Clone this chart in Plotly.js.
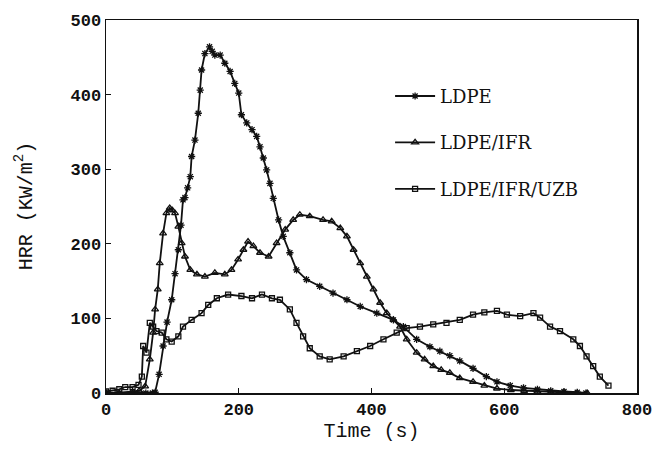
<!DOCTYPE html>
<html>
<head>
<meta charset="utf-8">
<script src="https://cdn.plot.ly/plotly-3.0.1.min.js"></script>
<style>html,body{margin:0;padding:0;background:#fff;}#chart{width:653px;height:459px;}</style>
</head>
<body>
<div id="chart"></div>
<script>
// Time (s) and HRR (kW/m^2)
const ldpeT = [0,20,40,60,70,74,80,86,92,99,104,109,113,116,119,123,127,129,134,139,142,144,149,156,160,164,172,179,187,194,200,204,212,220,227,232,237,242,247,252,260,267,277,287,302,322,342,363,383,408,433,448,468,488,503,518,533,553,573,589,609,629,650,670,690,710,723];
const ldpeY = [0,0,0,0,0,1,25,63,95,125,160,192,225,259,262,275,290,317,339,375,406,433,455,464,458,453,453,442,431,415,402,373,362,353,344,330,315,299,281,261,232,210,188,165,152,143,134,125,116,107,98,89,72,62,56,50,43,33,22,15,10,7,5,3,2,1,0];

const ifrT = [0,20,40,50,59,66,71,74,78,81,86,91,96,100,104,109,114,119,127,137,149,164,179,189,199,207,214,222,232,245,257,270,282,292,307,327,340,353,363,373,383,393,403,413,423,433,443,453,468,480,493,505,518,533,553,570,589,610,630,650,670,690,710,725];
const ifrY = [0,0,2,3,9,45,81,112,139,174,214,241,248,245,241,223,201,183,165,159,156,161,159,165,179,192,203,197,188,183,201,219,232,239,237,232,230,221,210,192,174,156,139,121,107,98,89,72,54,45,36,31,27,20,15,10,6,4,3,2,1,1,0,0];

const uzbT = [0,10,20,29,40,49,54,56,61,66,71,76,84,91,99,109,116,129,144,154,167,184,204,220,235,250,262,277,287,297,307,322,337,358,378,398,418,438,453,473,493,513,533,553,570,589,604,624,644,654,669,684,704,714,724,734,744,757];
const uzbY = [2,3,5,8,8,11,22,63,54,94,89,83,81,72,69,76,89,98,107,118,127,132,130,127,132,127,125,112,94,76,60,49,45,49,56,63,72,81,87,89,92,94,98,105,108,110,105,103,107,101,89,83,72,63,49,36,22,10];

const names = ['LDPE', 'LDPE/IFR', 'LDPE/IFR/UZB'];
const xTicks = [0,200,400,600,800];
const yTicks = [0,100,200,300,400,500];

const mono = 'Liberation Mono, DejaVu Sans Mono, monospace';

function tr(x, y, name, sym, size) {
  return {
    x: x, y: y, name: name, type: 'scatter', mode: 'lines+markers',
    legendgroup: name,
    line: {color: '#111', width: 1.8},
    marker: {symbol: sym, size: size, color: '#111', line: {color: '#111', width: 1.3}}
  };
}

const data = [
  tr(ldpeT, ldpeY, names[0], 'asterisk-open', 6),
  tr(ifrT, ifrY, names[1], 'triangle-up-open', 6),
  tr(uzbT, uzbY, names[2], 'square-open', 5)
];

const layout = {
  width: 653, height: 459,
  margin: {l: 106, r: 16, t: 20, b: 66},
  paper_bgcolor: '#fff', plot_bgcolor: '#fff',
  showlegend: true,
  legend: {
    x: 0.535, y: 0.845, xanchor: 'left', yanchor: 'top',
    font: {family: 'DejaVu Serif, serif', size: 18, color: '#111'},
    bgcolor: 'rgba(0,0,0,0)', tracegroupgap: 20, itemwidth: 40
  },
  xaxis: {
    range: [0, 800], tickvals: xTicks, ticktext: xTicks.map(String),
    showgrid: false, zeroline: false,
    showline: true, mirror: true, linecolor: '#111', linewidth: 1.5,
    ticks: 'inside', ticklen: 5, tickcolor: '#111',
    tickfont: {family: mono, size: 17, color: '#111', weight: 'bold'},
    title: {text: 'Time (s)', font: {family: mono, size: 20, color: '#111'}, standoff: 4}
  },
  yaxis: {
    range: [0, 500], tickvals: yTicks, ticktext: yTicks.map(String),
    showgrid: false, zeroline: false,
    showline: true, mirror: true, linecolor: '#111', linewidth: 1.5,
    ticks: 'inside', ticklen: 5, tickcolor: '#111',
    tickfont: {family: mono, size: 17, color: '#111', weight: 'bold'}
  },
  annotations: [{
    text: 'HRR (KW/m<sup>2</sup>)', xref: 'paper', yref: 'paper',
    x: -0.155, y: 0.5, xanchor: 'center', yanchor: 'middle',
    textangle: -90, showarrow: false,
    font: {family: mono, size: 20, color: '#111'}
  }]
};

Plotly.newPlot('chart', data, layout, {displayModeBar: false, staticPlot: true});
</script>
</body>
</html>
